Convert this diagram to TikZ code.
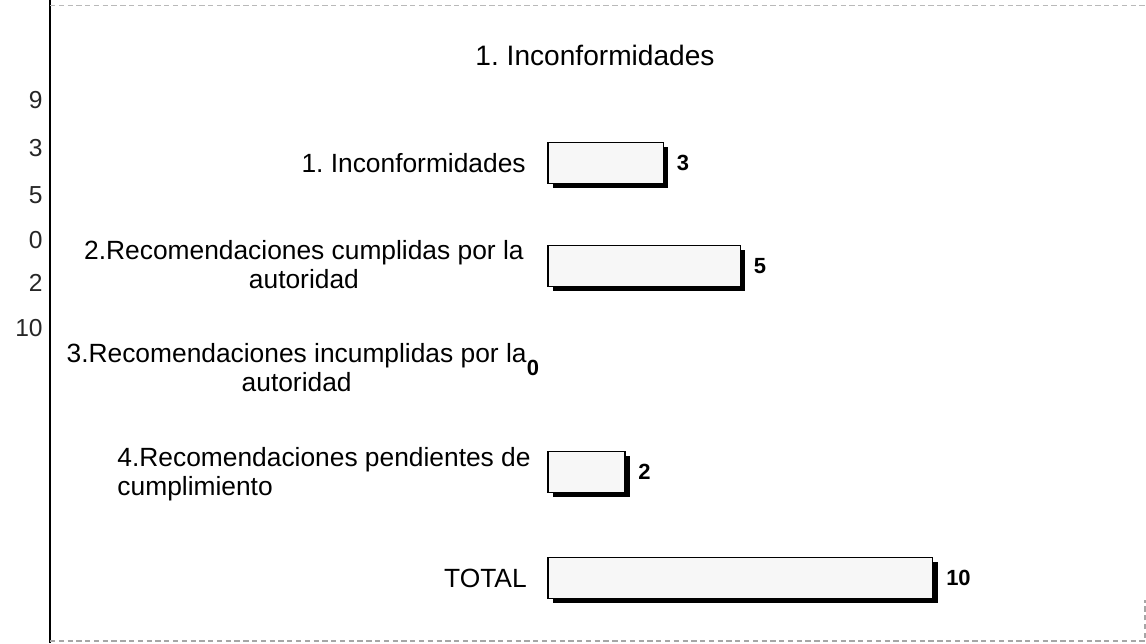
\documentclass[tikz,border=0pt]{standalone}
\usepackage{fontspec}
\setmainfont{Liberation Sans}
\usetikzlibrary{positioning,shadows}
\frenchspacing

\tikzset{
  barra/.style={draw=black, line width=0.6pt, fill=gray!6, anchor=west,
    inner sep=0pt, outer sep=0pt, minimum height=0.82cm,
    drop shadow={fill=black, opacity=1, shadow xshift=2.6pt, shadow yshift=-2.4pt}},
  etiqueta/.style={font=\fontsize{15}{16.5}\selectfont, inner sep=0pt, anchor=east},
  valor/.style={font=\fontsize{12.5}{14}\selectfont\bfseries, inner sep=0pt},
  escala/.style={font=\fontsize{14}{16}\selectfont, text=black!85, inner sep=0pt, anchor=east}
}

\begin{document}
\begin{tikzpicture}[x=0.02cm, y=-0.02cm]
        \useasboundingbox (0,0) rectangle (1146,643);
        % marco
        \draw[line width=0.7pt] (50,0) -- (50,643);
        \draw[gray!55, densely dashed, line width=0.5pt] (50,5) -- (1146,5);
        \draw[gray!70, densely dashed, line width=0.6pt] (50,641) -- (1145,641) -- (1145,600);
        % titulo
        \node[font=\fontsize{16}{18}\selectfont] (titulo) at (595,55) {1. Inconformidades};
        % escala de la izquierda
        \node[escala] (n9) at (43,100) {9};
        \node[escala] (n3) at (43,148) {3};
        \node[escala] (n5) at (43,195) {5};
        \node[escala] (n0) at (43,240) {0};
        \node[escala] (n2) at (43,283) {2};
        \node[escala] (n10) at (43,328) {10};
        % barras
        \node[barra, minimum width=3*0.77cm] (b1) at (548,163) {};
        \node[barra, minimum width=5*0.77cm] (b2) at (548,266) {};
        \coordinate (b3) at (548,369);
        \node[barra, minimum width=2*0.77cm] (b4) at (548,472) {};
        \node[barra, minimum width=10*0.77cm] (b5) at (548,578) {};
        % valores
        \node[valor, right=0.26cm of b1] (v1) {3};
        \node[valor, right=0.26cm of b2] (v2) {5};
        \node[valor] (v3) at (533,368) {0};
        \node[valor, right=0.26cm of b4] (v4) {2};
        \node[valor, right=0.26cm of b5] (v5) {10};
        % etiquetas
        \node[etiqueta] (e1) at (526,163) {1. Inconformidades};
        \node[etiqueta, align=center] (e2) at (524,265) {2.Recomendaciones cumplidas por la\\autoridad};
        \node[etiqueta, align=center] (e3) at (527,368) {3.Recomendaciones incumplidas por la\\autoridad};
        \node[etiqueta, align=left] (e4) at (531,474) {4.Recomendaciones pendientes de\\cumplimiento};
        \node[etiqueta] (e5) at (527,578) {TOTAL};
\end{tikzpicture}
\end{document}
